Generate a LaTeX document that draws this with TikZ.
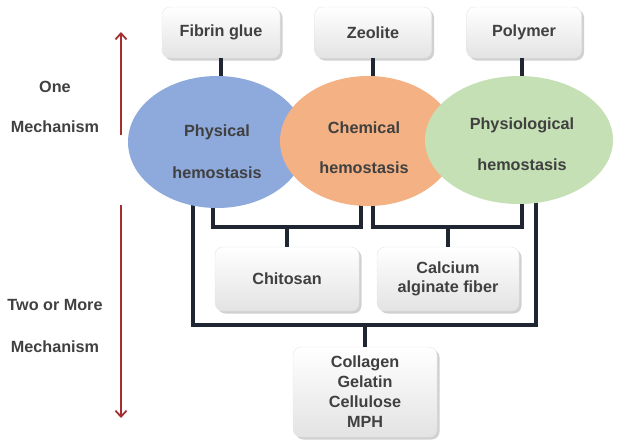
\documentclass[tikz,border=0pt]{standalone}
\usepackage{fontspec}
\setmainfont{Liberation Sans}
\usetikzlibrary{arrows.meta,shadows,shapes.geometric}
\definecolor{txt}{HTML}{404040}
\definecolor{cnc}{HTML}{1F2631}
\definecolor{blueE}{HTML}{8EA9DB}
\definecolor{orangeE}{HTML}{F4B183}
\definecolor{greenE}{HTML}{C5E0B4}
\definecolor{arrc}{HTML}{A3302E}
\begin{document}
\begin{tikzpicture}[x=1pt,y=-1pt,
  font=\fontsize{16.2}{19}\selectfont\bfseries, text=txt,
  box/.style={rounded corners=8pt, top color=white, bottom color=gray!22,
    draw=gray!20, line width=0.4pt, align=center, inner sep=0pt,
    drop shadow={shadow xshift=2.5pt,shadow yshift=-2.5pt,opacity=0.45,fill=gray!80}},
  ell/.style={ellipse, inner sep=0pt, draw=none},
  lbl/.style={inner sep=0pt, align=center},
  cn/.style={draw=cnc, line width=4pt, line join=miter},
  mech/.style={draw=arrc, line width=1.8pt, -{Straight Barb[length=6pt,width=11pt]}}
]
\useasboundingbox (0,0) rectangle (617,445);

% boxes
\node[box, minimum width=118pt, minimum height=51pt] (fib) at (221,32.5) {Fibrin glue};
\node[box, minimum width=117pt, minimum height=51pt] (zeo) at (373,32.5) {Zeolite};
\node[box, minimum width=115pt, minimum height=51pt] (pol) at (524,32.5) {Polymer};
\node[box, minimum width=144pt, minimum height=64pt] (chit) at (287,279) {Chitosan};
\node[box, minimum width=142pt, minimum height=64pt] (calc) at (448,279) {Calcium\\[0pt]alginate fiber};
\node[box, minimum width=144pt, minimum height=90pt] (coll) at (365,392) {Collagen\\[1pt]Gelatin\\[1pt]Cellulose\\[1pt]MPH};

% coordinates for connectors
\coordinate (pA) at (193,195);
\coordinate (pB) at (536,195);
\coordinate (qA) at (213,195);
\coordinate (qB) at (361,195);
\coordinate (rA) at (373,195);
\coordinate (rB) at (522,195);
\coordinate (j1) at (287,227);
\coordinate (j2) at (448,227);
\coordinate (j3) at (365,325);

% connectors (under ellipses)
\draw[cn] (fib.south) -- ++(0,24);
\draw[cn] (zeo.south) -- ++(0,24);
\draw[cn] (522,58) -- ++(0,24);
\draw[cn] (pA) -- (pA |- j3) -- (pB |- j3) -- (pB);
\draw[cn] (qA) -- (qA |- j1) -- (qB |- j1) -- (qB);
\draw[cn] (rA) -- (rA |- j2) -- (rB |- j2) -- (rB);
\draw[cn] (j1) -- (chit.north);
\draw[cn] (j2) -- (calc.north);
\draw[cn] (j3) -- (coll.north);

% ellipses
\node[ell, fill=blueE, minimum width=178pt, minimum height=132pt] (phys) at (217,142) {};
\node[ell, fill=orangeE, minimum width=176pt, minimum height=130pt] (chem) at (368,141) {};
\node[ell, fill=greenE, minimum width=188pt, minimum height=128pt] (physio) at (519,140) {};

\node[lbl] (physT1) at (217,132) {Physical};
\node[lbl] (physT2) at (217,173) {hemostasis};
\node[lbl] (chemT1) at (364,128) {Chemical};
\node[lbl] (chemT2) at (364,168) {hemostasis};
\node[lbl] (physioT1) at (522,125) {Physiological};
\node[lbl] (physioT2) at (522,165) {hemostasis};

% left labels and arrows
\node[lbl] (one1) at (55,87) {One};
\node[lbl] (one2) at (55,127) {Mechanism};
\node[lbl] (two1) at (55,305) {Two or More};
\node[lbl] (two2) at (55,347) {Mechanism};

\coordinate (a1s) at (121,135);
\coordinate (a1e) at (121,32);
\coordinate (a2s) at (121,205);
\coordinate (a2e) at (121,418);
\draw[mech] (a1s) -- (a1e);
\draw[mech] (a2s) -- (a2e);
\end{tikzpicture}
\end{document}
